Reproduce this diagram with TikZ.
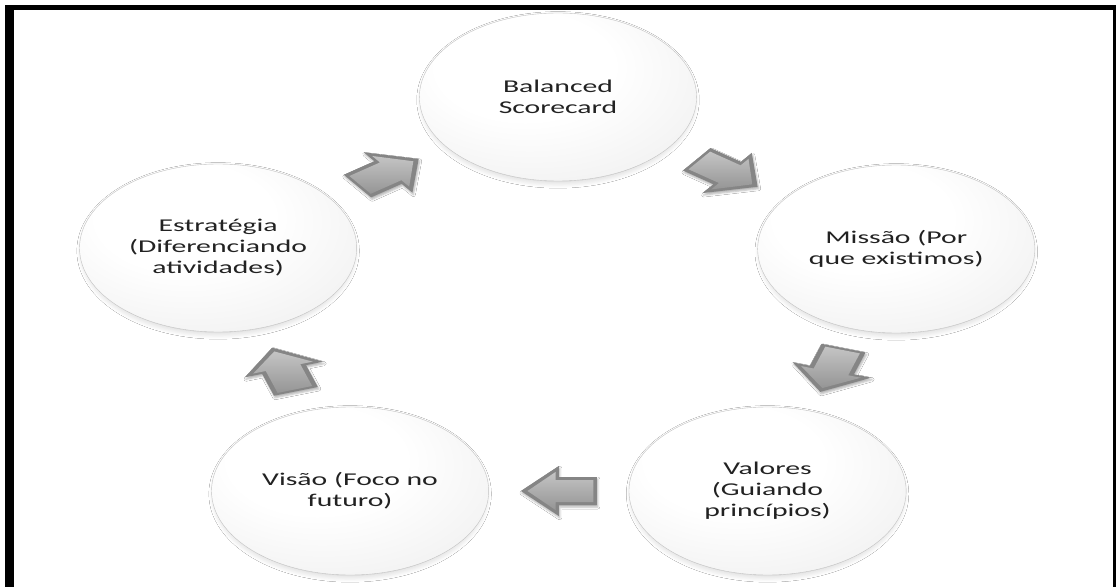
\documentclass[tikz,border=0pt]{standalone}
\usepackage{fontspec}
\setmainfont{Carlito}
\usetikzlibrary{calc,shadows.blur}

\definecolor{txt}{HTML}{222222}
\definecolor{rim}{HTML}{C2C2C2}
\definecolor{arrowdark}{HTML}{858585}
\definecolor{arrowmid}{HTML}{959595}
\definecolor{arrowlight}{HTML}{C4C4C4}

% soft sphere-like fill for the cycle stages
\pgfdeclareradialshading{orbshade}{\pgfpoint{-8bp}{12bp}}{%
  color(0bp)=(white); color(16bp)=(white); color(34bp)=(black!5);
  color(48bp)=(black!13); color(58bp)=(black!26); color(66bp)=(black!44)}

\tikzset{
  orb/.style={circle, minimum size=168pt, inner sep=0pt, transform shape,
    shading=orbshade, draw=rim, line width=0.4pt,
    blur shadow={shadow xshift=0pt, shadow yshift=-3pt, shadow blur steps=12,
      shadow opacity=22, shadow blur radius=7pt, shadow scale=0.97},
    align=center, text=txt, font=\fontsize{18}{21}\selectfont},
  blockarrow/.pic={
    \fill[arrowdark, blur shadow={shadow xshift=1pt, shadow yshift=-2pt,
      shadow opacity=30, shadow blur radius=2pt}]
      (-23,-14) -- (0,-14) -- (0,-25) -- (23,0) -- (0,25) -- (0,14)
      -- (-23,14) -- cycle;
    \shade[top color=arrowlight, bottom color=arrowmid]
      (-21,-11) -- (2,-11) -- (2,-19) -- (19,0) -- (2,19) -- (2,11)
      -- (-21,11) -- cycle;
  }
}

\begin{document}
\begin{tikzpicture}[x=1pt,y=1pt]
\useasboundingbox (0,0) rectangle (1116,587);
\fill[white] (0,0) rectangle (1116,587);

% page frame
\fill[black] (5,0) rectangle (14,582);
\fill[black] (5,577) rectangle (1116,582);
\fill[black] (1113,0) rectangle (1116,582);

\begin{scope}[shift={(558,0)}, xscale=1.65]
  \node[orb] (bsc) at (0,490)      {Balanced\\Scorecard};
  \node[orb] (mis) at (205,338)    {Missão (Por\\que existimos)};
  \node[orb] (val) at (127,96)     {Valores\\(Guiando\\princípios)};
  \node[orb] (vis) at (-126,96)    {Visão (Foco no\\futuro)};
  \node[orb] (est) at (-206,339)   {Estratégia\\(Diferenciando\\atividades)};

  \pic[transform shape, rotate=-36.6] at ($(bsc)!0.5!(mis)$) {blockarrow};
  \pic[transform shape, rotate=-107.9] at ($(mis)!0.5!(val)$) {blockarrow};
  \pic[transform shape, rotate=180]   at ($(val)!0.5!(vis)$) {blockarrow};
  \pic[transform shape, rotate=108.2] at ($(vis)!0.5!(est)$) {blockarrow};
  \pic[transform shape, rotate=36.2]  at ($(est)!0.5!(bsc)$) {blockarrow};
\end{scope}
\end{tikzpicture}
\end{document}
